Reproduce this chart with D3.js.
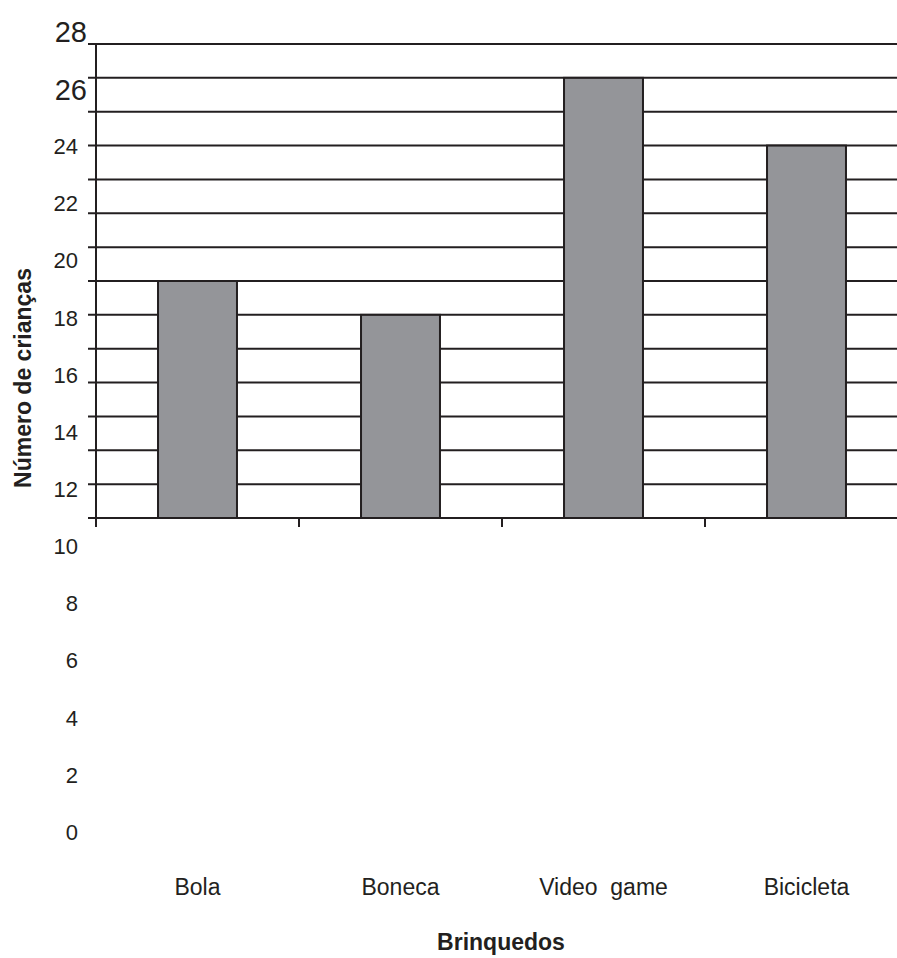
<!DOCTYPE html>
<html>
<head>
<meta charset="utf-8">
<script src="https://cdn.jsdelivr.net/npm/d3@7"></script>
<style>
  html, body { margin: 0; padding: 0; background: #fff; }
  svg { display: block; font-family: "Liberation Sans", Arial, Helvetica, sans-serif; }
  text { fill: #231f20; }
</style>
</head>
<body>
<svg id="chart" width="897" height="958"></svg>
<script>
// Toys and number of children who chose each one
const categories = ["Bola", "Boneca", "Video  game", "Bicicleta"];
const values = [20, 19, 26, 24];

// Printed values down the left side
const tickLabels = [0, 2, 4, 6, 8, 10, 12, 14, 16, 18, 20, 22, 24, 26, 28];
const largeTickLabels = [26, 28];

const xTitle = "Brinquedos";
const yTitle = "Número de crianças";

const ink = "#231f20";
const barFill = "#949599";

const svg = d3.select("#chart");

// Plot region with one ruled line per unit
const plot = { left: 96, right: 908, top: 44, bottom: 518 };
const yMin = 13, yMax = 27;

const y = d3.scaleLinear().domain([yMin, yMax]).range([plot.bottom, plot.top]);

const x = d3.scaleBand()
  .domain(categories)
  .range([plot.left, plot.right])
  .paddingInner(0.611)
  .paddingOuter(0.3055);

// The printed numbers follow their own, looser spacing
const labelY = d3.scaleLinear().domain([0, 28]).range([832, 32]);

// Horizontal rules, each with a short tick left of the axis
svg.append("g")
  .selectAll("line")
  .data(d3.range(yMin, yMax + 1))
  .join("line")
  .attr("x1", plot.left - 8)
  .attr("x2", 897)
  .attr("y1", d => y(d))
  .attr("y2", d => y(d))
  .attr("stroke", ink)
  .attr("stroke-width", 2);

// Vertical axis line
svg.append("line")
  .attr("x1", plot.left).attr("x2", plot.left)
  .attr("y1", plot.top).attr("y2", plot.bottom + 9)
  .attr("stroke", ink)
  .attr("stroke-width", 2);

// Category boundary ticks below the baseline
const step = x.step();
svg.append("g")
  .selectAll("line")
  .data(categories)
  .join("line")
  .attr("x1", d => x(d) - step * x.paddingOuter())
  .attr("x2", d => x(d) - step * x.paddingOuter())
  .attr("y1", plot.bottom)
  .attr("y2", plot.bottom + 9)
  .attr("stroke", ink)
  .attr("stroke-width", 2);

// Bars
svg.append("g")
  .selectAll("rect")
  .data(categories.map((c, i) => ({ c, v: values[i] })))
  .join("rect")
  .attr("x", d => x(d.c))
  .attr("width", x.bandwidth())
  .attr("y", d => y(d.v))
  .attr("height", d => y(yMin) - y(d.v))
  .attr("fill", barFill)
  .attr("stroke", ink)
  .attr("stroke-width", 2);

// Value labels on the left
svg.append("g")
  .selectAll("text")
  .data(tickLabels)
  .join("text")
  .attr("x", d => largeTickLabels.includes(d) ? 87 : 78)
  .attr("y", d => labelY(d))
  .attr("dy", "0.36em")
  .attr("text-anchor", "end")
  .attr("font-size", d => largeTickLabels.includes(d) ? 29 : 22)
  .text(d => d);

// Category names
svg.append("g")
  .selectAll("text")
  .data(categories)
  .join("text")
  .attr("x", d => x(d) + x.bandwidth() / 2)
  .attr("y", 895)
  .attr("text-anchor", "middle")
  .attr("font-size", 23)
  .style("white-space", "pre")
  .text(d => d);

// Axis titles
svg.append("text")
  .attr("x", 501)
  .attr("y", 950)
  .attr("text-anchor", "middle")
  .attr("font-size", 23)
  .attr("font-weight", "bold")
  .text(xTitle);

svg.append("text")
  .attr("transform", "translate(31,378) rotate(-90)")
  .attr("text-anchor", "middle")
  .attr("font-size", 23)
  .attr("font-weight", "bold")
  .text(yTitle);
</script>
</body>
</html>
